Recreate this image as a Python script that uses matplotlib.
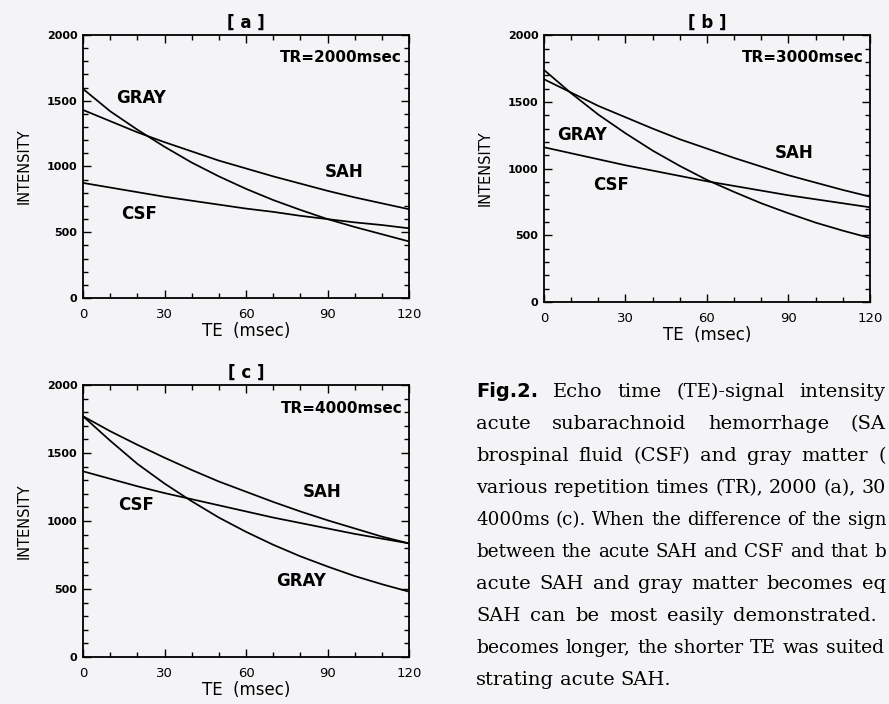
import numpy as np
import matplotlib.pyplot as plt
from matplotlib.ticker import MultipleLocator

# ============================================================
# DATOS
# ============================================================

te = [0, 10, 20, 30, 40, 50, 60, 70, 80, 90, 100, 110, 120]

# [a] TR=2000msec
gray_a = [1590, 1420, 1280, 1150, 1030, 925, 830, 745, 670, 600, 540, 485, 430]
sah_a = [1430, 1345, 1260, 1185, 1115, 1045, 985, 925, 870, 815, 765, 720, 675]
csf_a = [875, 840, 805, 770, 740, 710, 680, 655, 625, 600, 575, 555, 530]

# [b] TR=3000msec
gray_b = [1740, 1565, 1405, 1265, 1135, 1020, 915, 825, 740, 665, 595, 535, 480]
sah_b = [1670, 1570, 1470, 1385, 1300, 1220, 1150, 1080, 1015, 950, 895, 840, 790]
csf_b = [1160, 1115, 1070, 1025, 985, 945, 905, 870, 835, 800, 770, 740, 710]

# [c] TR=4000msec
gray_c = [1770, 1590, 1420, 1275, 1145, 1025, 920, 825, 740, 665, 595, 535, 480]
sah_c = [1770, 1660, 1560, 1465, 1375, 1290, 1215, 1140, 1070, 1005, 945, 885, 835]
csf_c = [1365, 1310, 1255, 1205, 1160, 1115, 1070, 1025, 985, 945, 905, 870, 835]

x_ticks = [0, 30, 60, 90, 120]
y_ticks = [0, 500, 1000, 1500, 2000]

# texto visible de la leyenda (recortado en el borde derecho, como en la imagen)
caption = [
    "Echo time (TE)-signal intensity",
    "acute subarachnoid hemorrhage (SA",
    "brospinal fluid (CSF) and gray matter (",
    "various repetition times (TR), 2000 (a), 30",
    "4000ms (c). When the difference of the sign",
    "between the acute SAH and CSF and that b",
    "acute SAH and gray matter becomes eq",
    "SAH can be most easily demonstrated.",
    "becomes longer, the shorter TE was suited",
    "strating acute SAH.",
]
caption_right = [885, 886, 886, 886, 886, 886, 886, 877, 884, None]

BG = "#f4f4f6"
SANS = "DejaVu Sans"
SERIF = "DejaVu Serif"

# ============================================================
# FIGURA
# ============================================================

W, H = 889, 704
fig = plt.figure(figsize=(W / 100, H / 100), dpi=100, facecolor=BG)

paneles = [
    ("[ a ]", "TR=2000msec", [0.0934, 0.5767, 0.3667, 0.3736],
     gray_a, sah_a, csf_a,
     {"GRAY": (12, 1520), "SAH": (89, 960), "CSF": (14, 635)}),
    ("[ b ]", "TR=3000msec", [0.6119, 0.571, 0.3667, 0.379],
     gray_b, sah_b, csf_b,
     {"GRAY": (5, 1250), "SAH": (85, 1115), "CSF": (18, 875)}),
    ("[ c ]", "TR=4000msec", [0.0934, 0.0668, 0.3667, 0.3864],
     gray_c, sah_c, csf_c,
     {"GRAY": (71, 555), "SAH": (81, 1210), "CSF": (13, 1120)}),
]

for titulo, tr, pos, g, s, c, etiquetas in paneles:
    ax = fig.add_axes(pos)
    ax.set_facecolor(BG)
    for serie in (g, s, c):
        ax.plot(te, serie, color="black", lw=1.25)
    ax.set_xlim(0, 120)
    ax.set_ylim(0, 2000)
    ax.set_xticks(x_ticks)
    ax.set_yticks(y_ticks)
    ax.xaxis.set_minor_locator(MultipleLocator(10))
    ax.yaxis.set_minor_locator(MultipleLocator(100))
    ax.tick_params(which="both", direction="in", top=True, right=True,
                   width=1.0, colors="black")
    ax.tick_params(which="major", length=6)
    ax.tick_params(which="minor", length=3.5)
    ax.tick_params(axis="x", pad=7)
    ax.tick_params(axis="y", pad=4)
    for lab in ax.get_xticklabels():
        lab.set_fontsize(9.5)
        lab.set_family(SANS)
    for lab in ax.get_yticklabels():
        lab.set_fontsize(8)
        lab.set_fontweight("bold")
        lab.set_family(SANS)
    for sp in ax.spines.values():
        sp.set_linewidth(1.3)
    ax.set_xlabel("TE  (msec)", fontsize=12, family=SANS, labelpad=1)
    ax.set_ylabel("INTENSITY", fontsize=10.5, family=SANS, labelpad=11)
    ax.set_title(titulo, fontsize=12, fontweight="bold", family=SANS, pad=5)
    ax.text(117.5, 1830, tr, ha="right", va="center", fontsize=11,
            fontweight="bold", family=SANS)
    for nombre, (x, y) in etiquetas.items():
        ax.text(x, y, nombre, ha="left", va="center", fontsize=12,
                fontweight="bold", family=SANS)

# ============================================================
# LEYENDA DE LA FIGURA (justificada)
# ============================================================

renderer = fig.canvas.get_renderer()

def ancho(t):
    return t.get_window_extent(renderer).width

x0 = 476
y_px = 392
paso = 32
fs = 14.0
hueco_min = 6.0

for i, linea in enumerate(caption):
    y = 1 - (y_px + i * paso) / H
    textos = []
    if i == 0:
        textos.append(fig.text(0, y, "Fig.2.", fontsize=14, fontweight="bold",
                               family=SANS, va="center"))
    for p in linea.split(" "):
        textos.append(fig.text(0, y, p, fontsize=fs, family=SERIF, va="center"))
    anchos = [ancho(t) for t in textos]
    derecha = caption_right[i]
    n = len(textos) - 1
    if derecha is None:
        hueco = hueco_min
    else:
        disponible = derecha - x0 - n * hueco_min
        if sum(anchos) > disponible:
            escala = disponible / sum(anchos)
            for t in textos:
                t.set_fontsize(t.get_fontsize() * escala)
            anchos = [ancho(t) for t in textos]
        hueco = (derecha - x0 - sum(anchos)) / n
    x = x0
    for t, w in zip(textos, anchos):
        t.set_x(x / W)
        x += w + hueco

fig.savefig("out.png", dpi=100, facecolor=BG)
